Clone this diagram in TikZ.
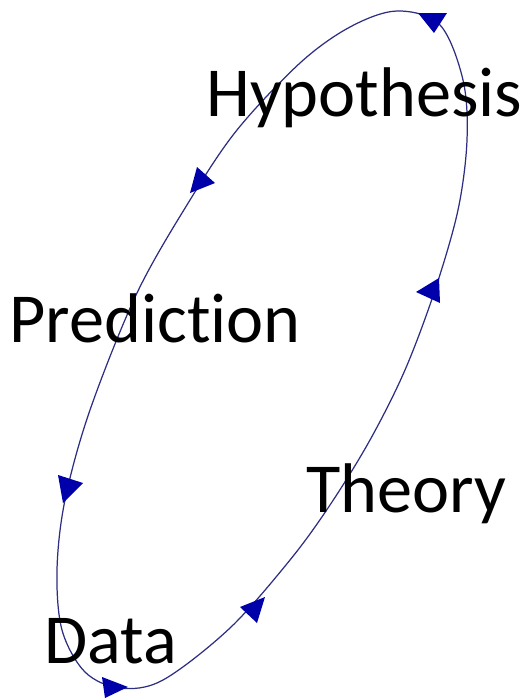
\documentclass[tikz,border=0pt]{standalone}
\usepackage{fontspec}
\setmainfont[Ligatures=NoCommon]{Carlito}
\definecolor{loopline}{RGB}{45,45,130}
\definecolor{loophead}{RGB}{0,0,170}
\tikzset{
  label/.style={inner sep=0pt, anchor=base west, font=\fontsize{40}{48}\selectfont},
  head/.style={fill=loophead}
}
\begin{document}
\begin{tikzpicture}[x=0.02cm, y=-0.02cm]
    \useasboundingbox (0,0) rectangle (531,700);

    % Loop
    \draw[loopline, line width=0.7pt] plot[smooth cycle, tension=0.55] coordinates {
        (397,11) (440,25) (463,80) (467,140) (458,210) (435,290) (405,370)
        (370,440) (330,505) (290,560) (230,628) (163,680) (120,688) (85,672)
        (62,630) (57,570) (65,500) (90,410) (137,293) (190,200) (237,130)
        (300,63) (350,27)};

    % Arrowheads
    \fill[head] (418,13) -- (447,13) -- (434,33) -- cycle;
    \fill[head] (197,167) -- (215,183) -- (190,193) -- cycle;
    \fill[head] (416,292) -- (439,278) -- (440,303) -- cycle;
    \fill[head] (58,475) -- (83,483) -- (63,503) -- cycle;
    \fill[head] (240,607) -- (265,597) -- (257,623) -- cycle;
    \fill[head] (102,677) -- (128,687) -- (105,698) -- cycle;

    % Labels
    \node[label] (hyp) at (206,116) {Hypothesis};
    \node[label] (pred) at (9,342) {Prediction};
    \node[label] (theo) at (306,512) {Theory};
    \node[label] (data) at (44,663) {Data};
\end{tikzpicture}
\end{document}
